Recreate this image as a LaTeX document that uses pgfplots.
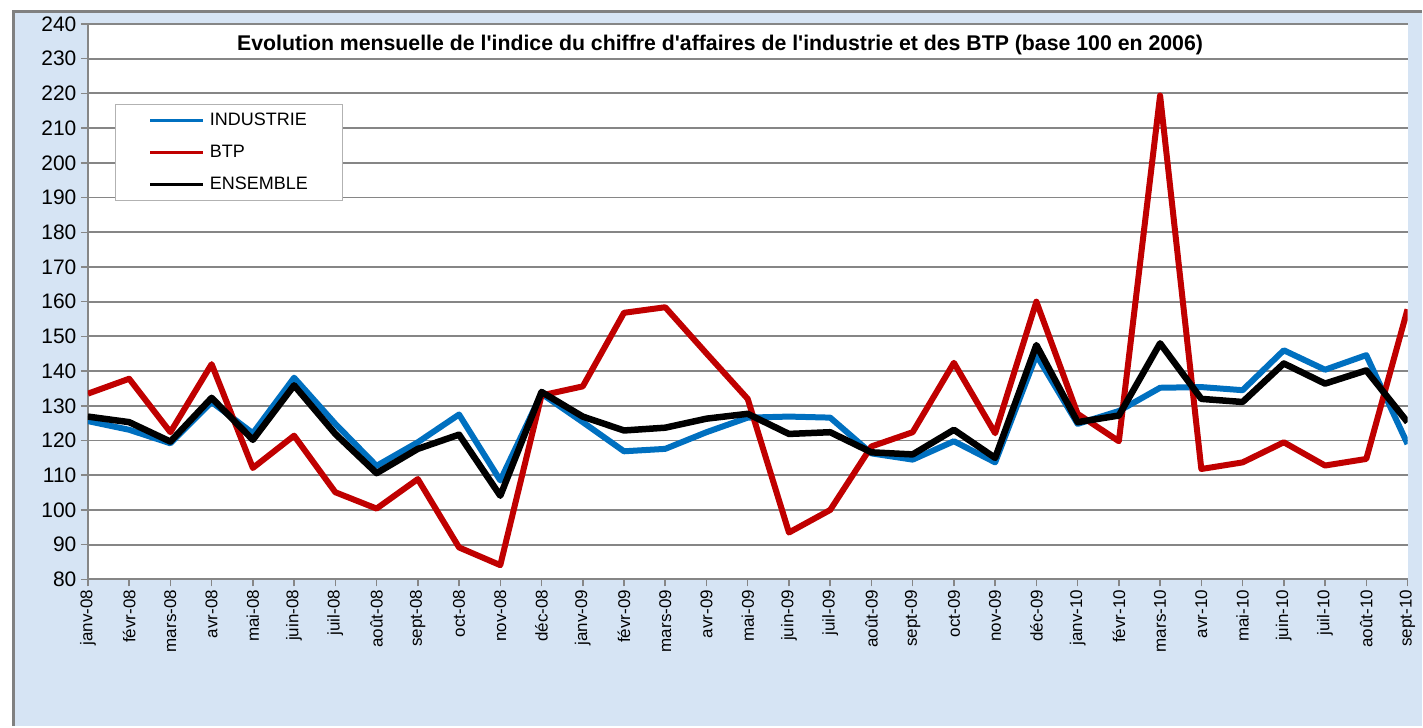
\documentclass[border=0pt]{standalone}
\usepackage{fontspec}
\setmainfont{Liberation Sans}
\usepackage{pgfplots}
\usepackage{pgfplotstable}
\pgfplotsset{compat=1.18}

\definecolor{indus}{RGB}{0,112,192}
\definecolor{btp}{RGB}{192,0,0}
\definecolor{gridc}{RGB}{134,134,134}
\definecolor{bgblue}{RGB}{214,228,244}

% index values, month 0 = janv-08 ... 32 = sept-10
\pgfplotstableread{
m  indus  btp    ens
0  125.6  133.5  126.9
1  123.1  137.8  125.3
2  119.2  122.4  119.7
3  131.1  142.0  132.3
4  122.1  112.1  120.2
5  138.1  121.4  135.9
6  124.8  105.1  121.9
7  112.7  100.4  110.6
8  119.5  108.9  117.6
9  127.5   89.2  121.7
10 108.5   84.1  104.1
11 133.5  133.0  134.0
12 125.3  135.6  126.9
13 116.9  156.8  122.9
14 117.6  158.4  123.7
15 122.4  145.1  126.3
16 126.6  132.0  127.7
17 126.9   93.5  121.9
18 126.6  100.0  122.4
19 116.3  118.3  116.6
20 114.5  122.4  116.0
21 119.8  142.4  123.1
22 113.7  122.1  115.0
23 144.6  160.0  147.5
24 124.8  127.7  125.3
25 128.5  119.8  127.2
26 135.2  219.4  148.0
27 135.4  111.8  132.0
28 134.5  113.7  131.1
29 146.0  119.5  142.2
30 140.4  112.8  136.4
31 144.6  114.7  140.2
32 119.0  157.8  125.3
}\data

\newcommand{\q}{\textquotesingle}

\begin{document}
\begin{tikzpicture}[x=1pt,y=1pt]
\fill[white] (0,0) rectangle (1423,727);
\fill[bgblue] (12,0) rectangle (1423,717);
\draw[gray, line width=3pt] (13.5,0) -- (13.5,715.5) -- (1423,715.5);
\begin{axis}[
    at={(88pt,147pt)}, anchor=south west,
    width=1321pt, height=556pt, scale only axis,
    xmin=0, xmax=32, ymin=80, ymax=240,
    xtick={0,...,32},
    xticklabels={janv-08,févr-08,mars-08,avr-08,mai-08,juin-08,juil-08,août-08,sept-08,oct-08,nov-08,déc-08,
                 janv-09,févr-09,mars-09,avr-09,mai-09,juin-09,juil-09,août-09,sept-09,oct-09,nov-09,déc-09,
                 janv-10,févr-10,mars-10,avr-10,mai-10,juin-10,juil-10,août-10,sept-10},
    ytick={80,90,...,240},
    axis x line*=bottom, axis y line*=left,
    axis line style={-, draw=gridc, line width=1.8pt},
    tick align=outside, major tick length=7pt,
    tick style={draw=gridc, line width=1.5pt},
    ymajorgrids, major grid style={draw=gridc, line width=1.8pt},
    axis background/.style={fill=white},
    /pgf/number format/assume math mode=true,
    yticklabel style={font=\fontsize{21}{21}\selectfont, xshift=-1pt},
    xticklabel style={rotate=90, anchor=east, font=\fontsize{17}{17}\selectfont},
    title={Evolution mensuelle de l\q indice du chiffre d\q affaires de l\q industrie et des BTP (base 100 en 2006)},
    title style={at={(0.479,0.951)}, anchor=center, font=\bfseries\fontsize{21.3}{23}\selectfont},
    legend style={at={(0.0204,0.856)}, anchor=north west, draw=gray!60, fill=white,
                  inner xsep=34pt, inner ysep=0pt, font=\fontsize{18}{18}\selectfont,
                  nodes={inner sep=0pt, minimum height=32pt}, column sep=5pt},
    legend cell align=left,
    legend image code/.code={\draw[#1, line width=3pt] (0pt,0pt) -- (53pt,0pt);},
]
\addplot[indus, line width=6pt, line join=round] table[x=m, y=indus] {\data};
\addlegendentry{INDUSTRIE}
\addplot[btp, line width=6pt, line join=round] table[x=m, y=btp] {\data};
\addlegendentry{BTP}
\addplot[black, line width=6.5pt, line join=round] table[x=m, y=ens] {\data};
\addlegendentry{ENSEMBLE}
\end{axis}
\end{tikzpicture}
\end{document}
